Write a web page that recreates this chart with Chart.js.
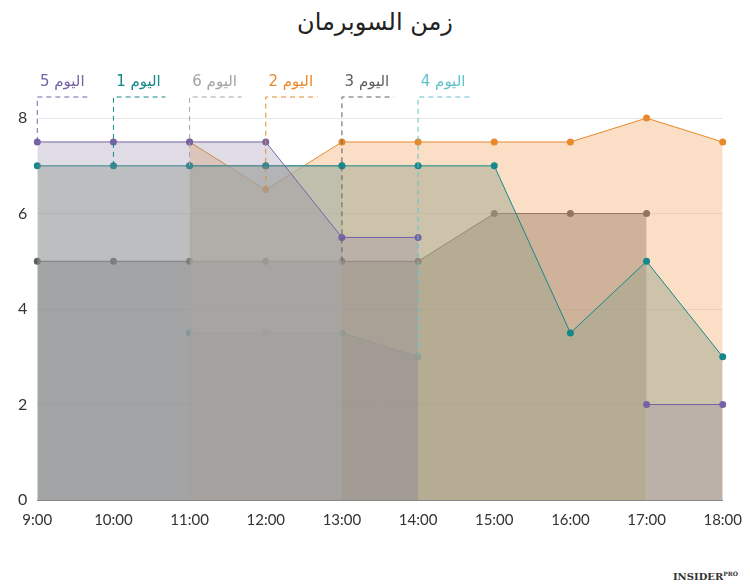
<!DOCTYPE html>
<html>
<head>
<meta charset="utf-8">
<script src="https://cdn.jsdelivr.net/npm/chart.js@4"></script>
<style>
  body { margin: 0; background: #fff; }
  #wrap { width: 750px; height: 588px; position: relative; }
  h1 { margin: 0; position: absolute; top: 8px; width: 100%; text-align: center;
       font: 24px "DejaVu Sans", sans-serif; color: #222; }
  #box { position: absolute; left: 0; top: 50px; width: 745px; height: 482px; }
  #brand { position: absolute; right: 12px; bottom: 6px; font: bold 10px "DejaVu Serif", serif; color: #333; }
</style>
</head>
<body>
<div id="wrap">
  <h1>زمن السوبرمان</h1>
  <div id="box"><canvas id="c"></canvas></div>
  <div id="brand">INSIDER<sup style="font-size:6px">PRO</sup></div>
</div>
<script>
// ساعات اليوم
const hours = ["9:00", "10:00", "11:00", "12:00", "13:00", "14:00", "15:00", "16:00", "17:00", "18:00"];

const day1 = [7, 7, 7, 7, 7, 7, 7, 3.5, 5, 3];
const day2 = [null, null, 7.5, 6.5, 7.5, 7.5, 7.5, 7.5, 8, 7.5];
const day3 = [5, 5, 5, 5, 5, 5, 6, 6, 6, null];
const day4 = [null, null, 3.5, 3.5, 3.5, 3, null, null, null, null];
const day5 = [7.5, 7.5, 7.5, 7.5, 5.5, 5.5, null, null, 2, 2];
const day6 = [null, null, 7, 7, 7, null, null, null, null, null];

const series = [
  { name: "اليوم 5", data: day5, color: "#7663a6", fill: "rgba(140,130,160,0.28)", at: 0 },
  { name: "اليوم 1", data: day1, color: "#17888a", fill: "rgba(150,165,140,0.45)", at: 1 },
  { name: "اليوم 6", data: day6, color: "#a3a3a3", fill: "rgba(200,200,200,0.5)", at: 2 },
  { name: "اليوم 2", data: day2, color: "#e8892c", fill: "rgba(240,160,90,0.35)", at: 3 },
  { name: "اليوم 3", data: day3, color: "#5e5e5e", fill: "rgba(120,120,120,0.5)", at: 4 },
  { name: "اليوم 4", data: day4, color: "#62c2cc", fill: "rgba(130,190,205,0.5)", at: 5 }
];

const labelPlugin = {
  id: "dayLabels",
  afterDatasetsDraw(chart) {
    const ctx = chart.ctx;
    const xs = chart.scales.x, ys = chart.scales.y;
    series.forEach((s) => {
      const x = xs.getPixelForValue(s.at);
      const y = ys.getPixelForValue(s.data[s.at]);
      ctx.save();
      ctx.strokeStyle = s.color;
      ctx.lineWidth = 1;
      ctx.setLineDash([5, 4]);
      ctx.beginPath();
      ctx.moveTo(x, y);
      ctx.lineTo(x, 47);
      ctx.lineTo(x + 52, 47);
      ctx.stroke();
      ctx.fillStyle = s.color;
      ctx.font = "15px 'DejaVu Sans'";
      ctx.textAlign = "center";
      ctx.fillText(s.name, x + 25, 36);
      ctx.restore();
    });
  }
};

new Chart(document.getElementById("c"), {
  type: "line",
  data: {
    labels: hours,
    datasets: series.map((s) => ({
      label: s.name,
      data: s.data,
      borderColor: s.color,
      backgroundColor: s.fill,
      pointBackgroundColor: s.color,
      pointBorderWidth: 0,
      pointRadius: 3.5,
      borderWidth: 1,
      fill: "origin",
      tension: 0
    }))
  },
  options: {
    responsive: true,
    maintainAspectRatio: false,
    animation: false,
    layout: { padding: { top: 49, right: 16, left: 8 } },
    plugins: { legend: { display: false }, tooltip: { enabled: false } },
    scales: {
      x: {
        offset: false,
        grid: { display: false, drawTicks: true },
        border: { color: "#888" },
        ticks: { color: "#333", font: { size: 15, family: "Lato" } }
      },
      y: {
        min: 0, max: 8.4,
        afterBuildTicks: (ax) => { ax.ticks = [0, 2, 4, 6, 8].map((v) => ({ value: v })); },
        grid: { color: "#e6e6e6", drawTicks: false },
        border: { display: false },
        ticks: { color: "#333", padding: 10, font: { size: 16, family: "Lato" } }
      }
    }
  },
  plugins: [labelPlugin]
});
</script>
</body>
</html>
